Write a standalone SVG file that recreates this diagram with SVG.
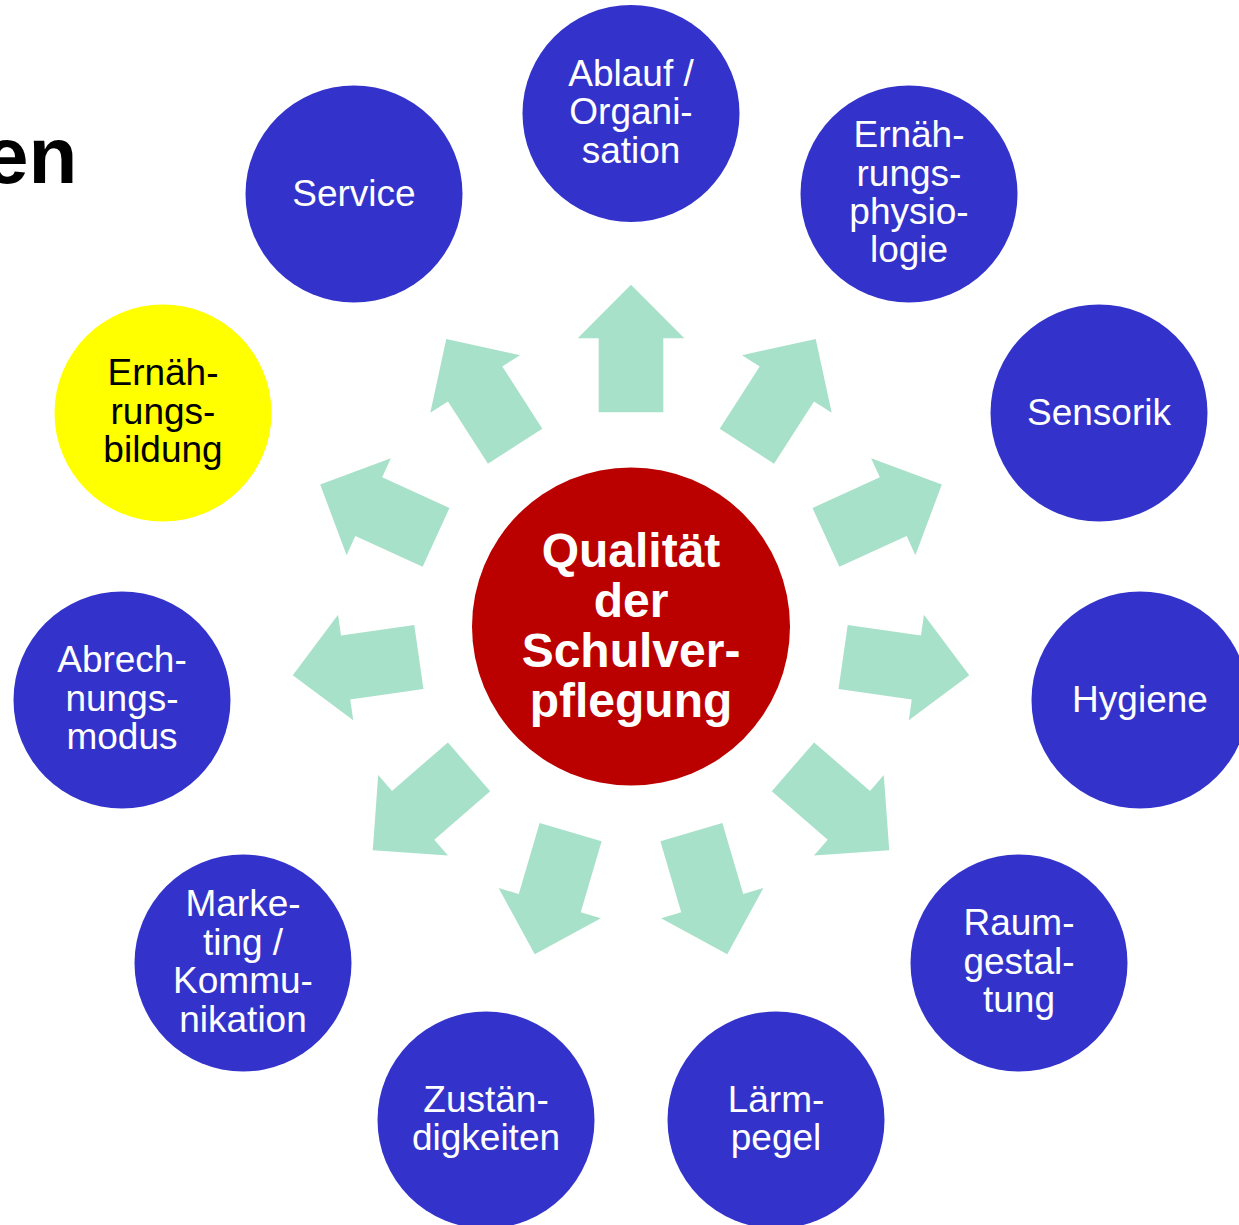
<svg xmlns="http://www.w3.org/2000/svg" xmlns:xlink="http://www.w3.org/1999/xlink" width="1239" height="1225" viewBox="0 0 1239 1225">
<style>
.node{fill:#3333CC}
.t{font-family:"Liberation Sans",Arial,sans-serif;font-size:37px;fill:#FFFFFF;text-anchor:middle}
.tb{fill:#000000}
.c{font-family:"Liberation Sans",Arial,sans-serif;font-size:48px;font-weight:bold;fill:#FFFFFF;text-anchor:middle}
.arr{fill:#A8E1C9}
</style>
<defs>
<polygon id="arrow" points="-32.3,-214.3 -32.3,-288.3 -53.3,-288.3 0,-341.7 53.3,-288.3 32.3,-288.3 32.3,-214.3"/>
</defs>
<rect width="1239" height="1225" fill="#FFFFFF"/>
<text x="-16" y="183" font-family="Liberation Sans, Arial, sans-serif" font-size="80" font-weight="bold" fill="#000000">en</text>
<g id="connectors" class="arr" transform="translate(631,626.5)">
<use xlink:href="#arrow" transform="rotate(0)"/>
<use xlink:href="#arrow" transform="rotate(32.727)"/>
<use xlink:href="#arrow" transform="rotate(65.455)"/>
<use xlink:href="#arrow" transform="rotate(98.182)"/>
<use xlink:href="#arrow" transform="rotate(130.909)"/>
<use xlink:href="#arrow" transform="rotate(163.636)"/>
<use xlink:href="#arrow" transform="rotate(-163.636)"/>
<use xlink:href="#arrow" transform="rotate(-130.909)"/>
<use xlink:href="#arrow" transform="rotate(-98.182)"/>
<use xlink:href="#arrow" transform="rotate(-65.455)"/>
<use xlink:href="#arrow" transform="rotate(-32.727)"/>
</g>
<g id="center">
<circle cx="631" cy="626.5" r="159" fill="#BB0000"/>
<text class="c" x="631" y="567">Qualität</text>
<text class="c" x="631" y="617">der</text>
<text class="c" x="631" y="667">Schulver-</text>
<text class="c" x="631" y="717">pflegung</text>
</g>
<g id="n-ablauf">
<circle class="node" cx="631" cy="113.5" r="108.5"/>
<text class="t" x="631" y="85.9">Ablauf /</text>
<text class="t" x="631" y="124.3">Organi-</text>
<text class="t" x="631" y="162.7">sation</text>
</g>
<g id="n-physiologie">
<circle class="node" cx="909" cy="194" r="108.5"/>
<text class="t" x="909" y="147.2">Ernäh-</text>
<text class="t" x="909" y="185.6">rungs-</text>
<text class="t" x="909" y="224">physio-</text>
<text class="t" x="909" y="262.4">logie</text>
</g>
<g id="n-sensorik">
<circle class="node" cx="1099" cy="413" r="108.5"/>
<text class="t" x="1099" y="424.5">Sensorik</text>
</g>
<g id="n-hygiene">
<circle class="node" cx="1140" cy="700" r="108.5"/>
<text class="t" x="1140" y="711.5">Hygiene</text>
</g>
<g id="n-raum">
<circle class="node" cx="1019" cy="963" r="108.5"/>
<text class="t" x="1019" y="935.4">Raum-</text>
<text class="t" x="1019" y="973.8">gestal-</text>
<text class="t" x="1019" y="1012.2">tung</text>
</g>
<g id="n-laerm">
<circle class="node" cx="776" cy="1120" r="108.5"/>
<text class="t" x="776" y="1111.6">Lärm-</text>
<text class="t" x="776" y="1150">pegel</text>
</g>
<g id="n-zustaendig">
<circle class="node" cx="486" cy="1120" r="108.5"/>
<text class="t" x="486" y="1111.6">Zustän-</text>
<text class="t" x="486" y="1150">digkeiten</text>
</g>
<g id="n-marketing">
<circle class="node" cx="243" cy="963" r="108.5"/>
<text class="t" x="243" y="916.4">Marke-</text>
<text class="t" x="243" y="954.8">ting /</text>
<text class="t" x="243" y="993.2">Kommu-</text>
<text class="t" x="243" y="1031.6">nikation</text>
</g>
<g id="n-abrechnung">
<circle class="node" cx="122" cy="700" r="108.5"/>
<text class="t" x="122" y="672.4">Abrech-</text>
<text class="t" x="122" y="710.8">nungs-</text>
<text class="t" x="122" y="749.2">modus</text>
</g>
<g id="n-bildung">
<circle cx="163" cy="413" r="108.5" fill="#FFFF00"/>
<text class="t tb" x="163" y="385.4">Ernäh-</text>
<text class="t tb" x="163" y="423.8">rungs-</text>
<text class="t tb" x="163" y="462.2">bildung</text>
</g>
<g id="n-service">
<circle class="node" cx="354" cy="194" r="108.5"/>
<text class="t" x="354" y="205.5">Service</text>
</g>
</svg>
